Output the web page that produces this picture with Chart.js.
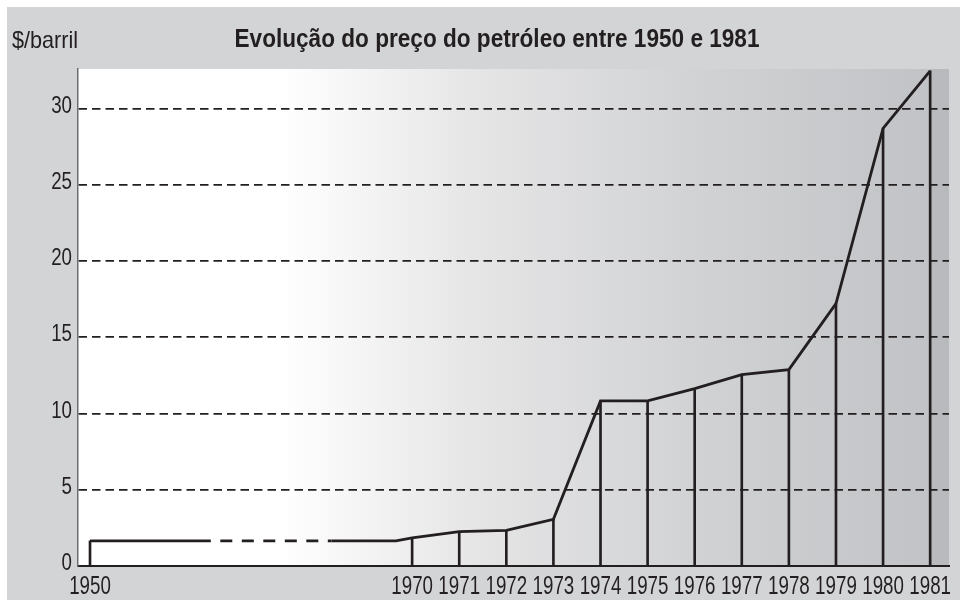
<!DOCTYPE html>
<html>
<head>
<meta charset="utf-8">
<script src="https://cdn.jsdelivr.net/npm/chart.js@4.4.1/dist/chart.umd.min.js"></script>
<style>
  html, body { margin: 0; padding: 0; background: #fff; }
  canvas { display: block; }
</style>
</head>
<body>
<canvas id="grafico" width="960" height="604"></canvas>
<script>
// --- DADOS ---
const anos = ['1950', '1970', '1971', '1972', '1973', '1974', '1975', '1976', '1977', '1978', '1979', '1980', '1981'];
const precos = [1.65, 1.84, 2.25, 2.34, 3.06, 10.83, 10.83, 11.63, 12.55, 12.88, 17.21, 28.7, 32.48];

// patamar 1950-1969 (o troço 1957.5-1965 é a quebra do eixo, a tracejado)
const anosPatamar = [1950, 1957.5, 1965, 1969];
const precoPatamar = 1.65;

const yTicks = [0, 5, 10, 15, 20, 25, 30];

const TITULO = 'Evolução do preço do petróleo entre 1950 e 1981';
const UNIDADE = '$/barril';

// --- ESTILO ---
const FONTE = '"Liberation Sans", Arial, sans-serif';
const TINTA = '#231f20';
const QUEBRA = 6.84; // 20 anos (1950-1970) comprimidos em 6.84 "casas"

// posicao no eixo x (eixo partido)
function xPos(ano) {
    return ano >= 1970 ? QUEBRA + (ano - 1970) : (ano - 1950) * QUEBRA / 20;
}

const pontosLinha = anosPatamar.map(a => ({ x: xPos(a), y: precoPatamar }))
    .concat(anos.slice(1).map((a, i) => ({ x: xPos(+a), y: precos[i + 1] })));
const pontosBarras = anos.map((a, i) => ({ x: xPos(+a), y: precos[i] }));

// texto com largura comprimida (letra condensada do original)
function texto(ctx, str, x, y, align, font, sx) {
    ctx.save();
    ctx.translate(x, y);
    ctx.scale(sx, 1);
    ctx.font = font;
    ctx.textAlign = align;
    ctx.textBaseline = 'alphabetic';
    ctx.fillText(str, 0, 0);
    ctx.restore();
}

// fundo cinzento + degradê da area do grafico + textos
const fundo = {
    id: 'fundo',
    beforeDraw(chart) {
        const { ctx, chartArea: a } = chart;
        ctx.save();
        ctx.fillStyle = '#fff';
        ctx.fillRect(0, 0, chart.width, chart.height);
        ctx.fillStyle = '#d3d4d6';
        ctx.fillRect(7, 7, chart.width - 7, chart.height - 11);

        const g = ctx.createLinearGradient(a.left, 0, a.right, 0);
        g.addColorStop(0, '#ffffff');
        g.addColorStop(0.232, '#ffffff');
        g.addColorStop(0.46, '#e5e5e6');
        g.addColorStop(0.714, '#d1d2d4');
        g.addColorStop(0.977, '#c2c3c6');
        g.addColorStop(0.978, '#b9babd');
        g.addColorStop(1, '#b9babd');
        ctx.fillStyle = g;
        ctx.fillRect(a.left, a.top, a.right - a.left, a.bottom - a.top);
        ctx.restore();
    },
    afterDraw(chart) {
        const { ctx, chartArea: a, scales } = chart;
        ctx.save();
        ctx.fillStyle = TINTA;

        // titulo e unidade
        ctx.font = 'bold 26px ' + FONTE;
        const sxT = Math.min(1, 525 / ctx.measureText(TITULO).width);
        texto(ctx, TITULO, 497, 47, 'center', 'bold 26px ' + FONTE, sxT);
        texto(ctx, UNIDADE, 12, 48, 'left', '24px ' + FONTE, 0.9);

        // rotulos do eixo y
        yTicks.forEach(v => {
            texto(ctx, String(v), a.left - 6, scales.y.getPixelForValue(v) + 4, 'right', '24px ' + FONTE, 0.78);
        });
        // rotulos do eixo x
        scales.x.ticks.forEach((t, i) => {
            texto(ctx, anos[i], scales.x.getPixelForValue(t.value), a.bottom + 28, 'center', '25px ' + FONTE, 0.75);
        });
        ctx.restore();
    }
};

new Chart(document.getElementById('grafico'), {
    type: 'line',
    data: {
        datasets: [
            {
                type: 'line',
                data: pontosLinha,
                borderColor: TINTA,
                borderWidth: 2.8,
                pointRadius: 0,
                tension: 0,
                borderJoinStyle: 'miter',
                segment: {
                    borderDash: c => c.p0DataIndex === 1 ? [12, 9.5] : undefined,
                    borderDashOffset: c => c.p0DataIndex === 1 ? 12 : undefined
                },
                order: 0
            },
            {
                type: 'bar',
                data: pontosBarras,
                backgroundColor: TINTA,
                barThickness: 2,
                borderWidth: 0,
                order: 1
            }
        ]
    },
    options: {
        responsive: false,
        animation: false,
        events: [],
        layout: { padding: { left: 0, top: 69, right: 11, bottom: 0 } },
        plugins: { legend: { display: false }, tooltip: { enabled: false } },
        scales: {
            x: {
                type: 'linear',
                min: -0.255,
                max: 18.24,
                offset: false,
                grid: { display: false, drawTicks: false },
                border: { display: true, color: TINTA, width: 2 },
                afterBuildTicks: s => { s.ticks = anos.map(a => ({ value: xPos(+a) })); },
                afterFit: s => { s.height = 38; },
                ticks: { display: false }
            },
            y: {
                min: 0,
                max: 32.6,
                grid: { color: TINTA, lineWidth: 1.8, drawTicks: false },
                border: { display: true, color: '#6d6e71', width: 1.5, dash: [8.5, 5] },
                afterBuildTicks: s => { s.ticks = yTicks.map(v => ({ value: v })); },
                afterFit: s => { s.width = 78; },
                ticks: { display: false }
            }
        }
    },
    plugins: [fundo]
});
</script>
</body>
</html>
